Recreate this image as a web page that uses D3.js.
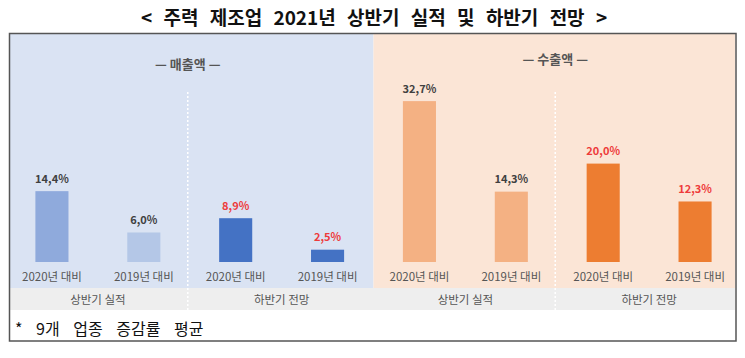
<!DOCTYPE html>
<html><head><meta charset="utf-8">
<script src="https://cdn.jsdelivr.net/npm/d3@7"></script>
<style>
html,body{margin:0;padding:0;background:#fff;}
svg{display:block;font-family:"Noto Sans CJK KR","Noto Sans",sans-serif;}
</style></head>
<body><svg id="c" width="745" height="358"></svg>
<script>
const title = "< 주력 제조업 2021년 상반기 실적 및 하반기 전망 >";
const panels = ["매출액", "수출액"];
const periods = ["상반기 실적", "하반기 전망"];
const comparisons = ["2020년 대비", "2019년 대비"];
const salesValues = [14.4, 6.0, 8.9, 2.5];
const exportValues = [32.7, 14.3, 20.0, 12.3];
const footnote = "* 9개 업종 증감률 평균";

(function () {
const seriesValues = [salesValues, exportValues];
const items = [];
panels.forEach((p, pi) => {
  periods.forEach((per, qi) => {
    comparisons.forEach((c, ci) => {
      items.push({panel: p, pi, period: per, qi, comp: c, ci,
        key: pi + "-" + qi + "-" + ci, value: seriesValues[pi][qi * 2 + ci]});
    });
  });
});

const panelFill = ["#dae3f3", "#fbe5d6"];
const barFill = [["#8faadc", "#b4c7e7", "#4472c4", "#4472c4"],
                 ["#f4b183", "#f4b183", "#ed7d31", "#ed7d31"]];
const labelFill = [["#404040", "#404040", "#ee3b3b", "#ee3b3b"],
                   ["#404040", "#404040", "#ee3b3b", "#ee3b3b"]];

const svg = d3.select("#c");
const x = d3.scaleBand().domain(items.map(d => d.key)).range([6, 741])
  .paddingInner(0.64).paddingOuter(0.32);
const y = d3.scaleLinear().domain([0, 35]).range([262, 89.8]);
const fmt = d3.formatLocale({decimal: ",", thousands: ".", grouping: [3], currency: ["", ""]}).format(".1f");

const L = 10, R = 735, T = 34, bandTop = 288, bandBot = 310, B = 341;
const cx = k => x(k) + x.bandwidth() / 2;
const mid = (a, b) => (cx(a) + cx(b)) / 2;
const panelEdge = mid("0-1-1", "1-0-0");

svg.append("rect").attr("x", L).attr("y", T).attr("width", panelEdge - L).attr("height", bandTop - T).attr("fill", panelFill[0]);
svg.append("rect").attr("x", panelEdge).attr("y", T).attr("width", R - panelEdge).attr("height", bandTop - T).attr("fill", panelFill[1]);
svg.append("rect").attr("x", L).attr("y", bandTop).attr("width", R - L).attr("height", bandBot - bandTop).attr("fill", "#eeeeee");

panels.forEach((p, pi) => {
  const dx = mid(pi + "-0-1", pi + "-1-0") - 2;
  svg.append("line").attr("x1", dx).attr("x2", dx).attr("y1", 92).attr("y2", bandBot)
    .attr("stroke", "#ffffff").attr("stroke-width", 1.5).attr("stroke-dasharray", "2,2");
  svg.append("text").attr("x", dx).attr("y", pi === 0 ? 68.5 : 63.5).attr("text-anchor", "middle")
    .attr("font-size", 13).attr("font-weight", 700).attr("fill", "#555")
    .text("— " + p + " —");
});

svg.selectAll("rect.bar").data(items).join("rect").attr("class", "bar")
  .attr("x", d => x(d.key)).attr("width", x.bandwidth())
  .attr("y", d => y(d.value)).attr("height", d => y(0) - y(d.value))
  .attr("fill", d => barFill[d.pi][d.qi * 2 + d.ci]);

svg.selectAll("text.val").data(items).join("text").attr("class", "val")
  .attr("x", d => cx(d.key)).attr("y", d => y(d.value) - 8.5).attr("text-anchor", "middle")
  .attr("font-size", 11).attr("font-weight", 700).attr("fill", d => labelFill[d.pi][d.qi * 2 + d.ci])
  .text(d => fmt(d.value) + "%");

svg.selectAll("text.comp").data(items).join("text").attr("class", "comp")
  .attr("x", d => cx(d.key)).attr("y", 281).attr("text-anchor", "middle")
  .attr("font-size", 11.5).attr("fill", "#555").text(d => d.comp);

panels.forEach((p, pi) => {
  periods.forEach((per, qi) => {
    svg.append("text").attr("x", mid(pi + "-" + qi + "-0", pi + "-" + qi + "-1")).attr("y", 304)
      .attr("text-anchor", "middle").attr("font-size", 11.5).attr("fill", "#555").text(per);
  });
});

svg.append("text").attr("x", 15).attr("y", 335).attr("font-size", 16).attr("fill", "#111")
  .attr("word-spacing", 10).text(footnote);

svg.append("rect").attr("x", 9.5).attr("y", 33.5).attr("width", 726.5).attr("height", B - 33.5)
  .attr("fill", "none").attr("stroke", "#555").attr("stroke-width", 1.5);

svg.append("text").attr("x", 374).attr("y", 25).attr("text-anchor", "middle").attr("word-spacing", 7)
  .attr("font-size", 19).attr("font-weight", 700).attr("fill", "#111").text(title);
})();
</script></body></html>
